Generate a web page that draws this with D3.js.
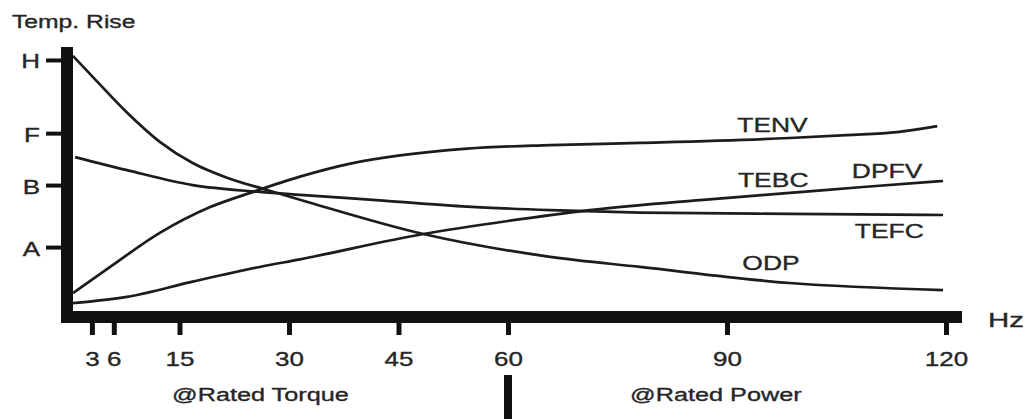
<!DOCTYPE html>
<html>
<head>
<meta charset="utf-8">
<script src="https://cdn.jsdelivr.net/npm/d3@7"></script>
<style>
  body { margin: 0; background: #fff; }
  text { font-family: "Liberation Sans", Arial, sans-serif; fill: #262626; stroke: #262626; stroke-width: 0.35px; }
</style>
</head>
<body>
<svg id="chart" width="1034" height="419"></svg>
<script>
// frequency ticks (Hz) and insulation class ticks
const hzTicks = [3, 6, 15, 30, 45, 60, 90, 120];
const classTicks = [25.7, 48.5, 67.6, 94.5];
const classLabels = ["A", "B", "F", "H"];

// curves: [Hz, temp rise (arbitrary units)]
const tenv = [[0.4, 8.8], [5.5, 18.4], [12.3, 30.9], [19.2, 40.4], [25.1, 46.0], [31.5, 51.6],
  [38.4, 56.4], [45.2, 59.4], [54.4, 61.9], [65.8, 63.2], [78.1, 64.0], [98.6, 65.8],
  [106.4, 66.9], [113.3, 68.0], [118.8, 70.2]];
const tefc = [[0.7, 58.8], [7.8, 54.0], [16.8, 48.5], [26.0, 46.0], [31.5, 44.9], [42.9, 42.8],
  [54.4, 40.6], [65.8, 39.3], [78.1, 38.4], [98.6, 37.9], [119.6, 37.5]];
const dpfv = [[0.4, 5.1], [7.8, 7.4], [16.8, 13.0], [26.0, 18.4], [31.5, 21.2], [48.4, 30.5],
  [60.0, 35.3], [71.2, 39.3], [86.3, 43.0], [98.6, 45.6], [108.6, 47.8], [119.6, 50.0]];
const odp = [[0.4, 96.0], [3.15, 88.2], [7.8, 75.2], [12.3, 64.4], [16.8, 56.6], [21.5, 51.2],
  [27.0, 46.7], [32.9, 42.0], [48.4, 30.5], [65.8, 22.1], [78.1, 18.4], [98.6, 12.5], [119.6, 9.9]];

const curveNames = ["TENV", "TEBC", "DPFV", "TEFC", "ODP"];
// label anchors in data units
const labelHz = [91.4, 91.5, 107.1, 107.5, 92.1];
const labelRise = [68.0, 47.8, 51.1, 29.0, 17.3];

const svg = d3.select("#chart");

const x = d3.scaleLinear().domain([0, 120]).range([70, 946]);
const y = d3.scaleLinear().domain([0, 100]).range([317, 45]);

const line = d3.line()
    .x(d => x(d[0]))
    .y(d => y(d[1]))
    .curve(d3.curveMonotoneX);

svg.selectAll(".curve")
    .data([tenv, tefc, dpfv, odp])
    .join("path")
    .attr("class", "curve")
    .attr("d", line)
    .attr("fill", "none")
    .attr("stroke", "#1c1c1c")
    .attr("stroke-width", 2.7);

// axes
const xAxis = d3.axisBottom(x).tickValues(hzTicks).tickSize(18).tickPadding(17);
const gx = svg.append("g")
    .attr("transform", `translate(0,${y(0)})`)
    .call(xAxis);
gx.select(".domain").remove();
gx.selectAll("line").attr("stroke", "#111").attr("stroke-width", 5);
gx.selectAll("text")
    .attr("font-size", 20)
    .attr("fill", "#262626")
    .attr("transform", "scale(1.3,1)");

const yAxis = d3.axisLeft(y).tickValues(classTicks).tickFormat((_, i) => classLabels[i]).tickSize(21);
const gy = svg.append("g")
    .attr("transform", `translate(${x(0) - 3},0)`)
    .call(yAxis);
gy.select(".domain").remove();
gy.selectAll("line").attr("stroke", "#111").attr("stroke-width", 4);
gy.selectAll("text")
    .attr("font-size", 20)
    .attr("fill", "#262626")
    .attr("x", -27 / 1.3)
    .attr("dy", "0.4em")
    .attr("transform", "scale(1.3,1)");

svg.append("line")
    .attr("x1", x(0) - 8).attr("x2", x(120) + 16)
    .attr("y1", y(0)).attr("y2", y(0))
    .attr("stroke", "#111").attr("stroke-width", 12);
svg.append("line")
    .attr("x1", x(0) - 3).attr("x2", x(0) - 3)
    .attr("y1", y(0) + 6).attr("y2", y(100) + 2)
    .attr("stroke", "#111").attr("stroke-width", 12);

// divider under 60 Hz
svg.append("line")
    .attr("x1", x(60)).attr("x2", x(60))
    .attr("y1", 375).attr("y2", 419)
    .attr("stroke", "#111").attr("stroke-width", 8);

const addText = (txt, px, py, size, sx) => {
    svg.append("text")
        .attr("transform", `translate(${px},${py}) scale(${sx},1)`)
        .attr("font-size", size)
        .text(txt);
};

curveNames.forEach((name, i) => addText(name, x(labelHz[i]), y(labelRise[i]), 21, 1.26));

addText("Temp. Rise", 12, 28, 19, 1.3);
addText("Hz", 988, 327, 21, 1.4);
addText("@Rated Torque", 172, 401, 19, 1.33);
addText("@Rated Power", 630, 401, 19, 1.33);
</script>
</body>
</html>
